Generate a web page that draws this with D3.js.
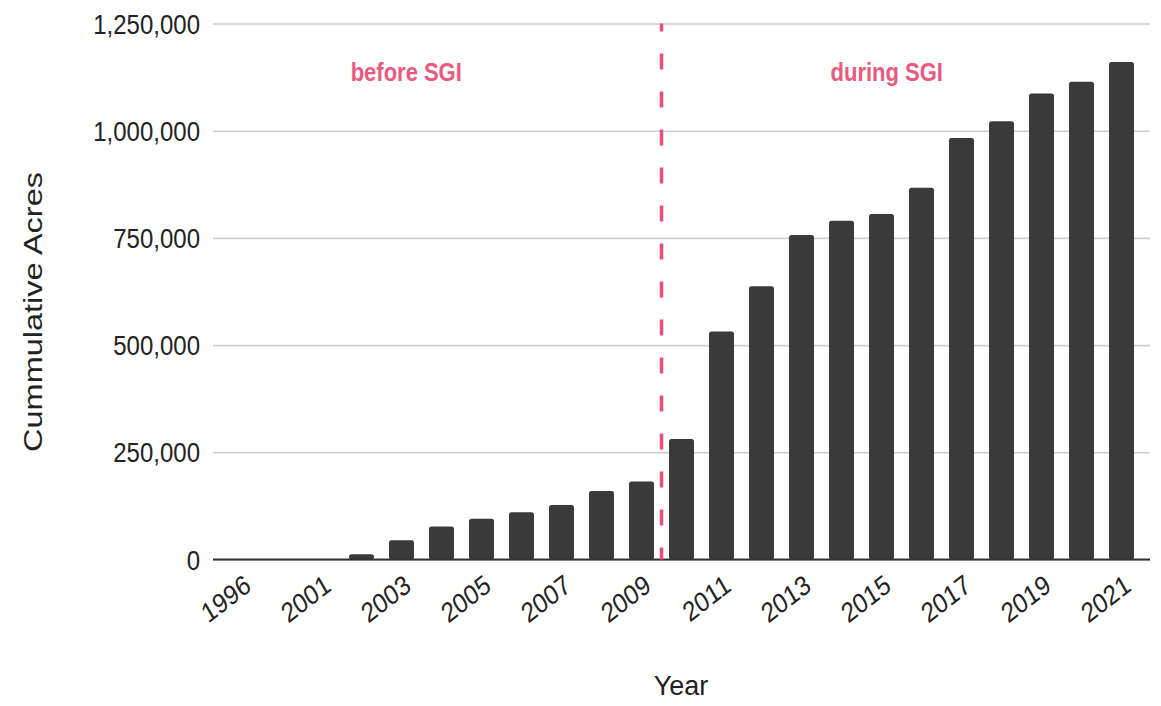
<!DOCTYPE html>
<html>
<head>
<meta charset="utf-8">
<script src="https://cdn.jsdelivr.net/npm/d3@7/dist/d3.min.js"></script>
<style>
  html, body { margin: 0; padding: 0; background: #fff; }
  svg { display: block; font-family: "Liberation Sans", Arial, sans-serif; }
</style>
</head>
<body>
<svg id="chart" width="1161" height="706"></svg>
<script>
// ---- data ----
const years = ["1996","2000","2001","2002","2003","2004","2005","2006","2007","2008","2009",
               "2010","2011","2012","2013","2014","2015","2016","2017","2018","2019","2020","2021"];
const acres = [0, 0, 0, 12000, 45000, 77000, 95000, 110000, 127000, 160000, 182000,
               281000, 532000, 637000, 757000, 790000, 806000, 867000, 983000, 1022000, 1087000, 1114000, 1160000];
const yTicks = [0, 250000, 500000, 750000, 1000000, 1250000];
const periodLabels = ["before SGI", "during SGI"];
const splitAfter = "2009";
const yTitle = "Cummulative Acres";
const xTitle = "Year";

// ---- layout ----
const svg = d3.select("#chart");
const plotL = 213, plotR = 1150, plotT = 23.5, plotB = 559.5;
const stretch = 1.15;

const x = d3.scaleBand().domain(years).range([plotL, plotR]).paddingInner(0.375).paddingOuter(0.4);
const y = d3.scaleLinear().domain([0, 1250000]).range([plotB, plotT]);

// gridlines + y axis labels
const yAxis = d3.axisLeft(y).tickValues(yTicks).tickFormat(d3.format(","))
  .tickSizeInner(-(plotR - plotL)).tickSizeOuter(0).tickPadding(13);
const gy = svg.append("g").attr("transform", `translate(${plotL},0)`).call(yAxis);
gy.select(".domain").remove();
gy.selectAll(".tick line").attr("stroke", "#cfcfcf").attr("stroke-width", 1.6);
gy.selectAll(".tick text")
  .attr("fill", "#222").style("font-size", "24px")
  .attr("dy", null).attr("dominant-baseline", "central")
  .attr("transform", `scale(1,${stretch})`);

// bars
svg.append("g").selectAll("rect").data(years.map((d, i) => ({ year: d, v: acres[i] })))
  .join("rect")
  .attr("x", d => x(d.year))
  .attr("width", x.bandwidth())
  .attr("y", d => y(d.v))
  .attr("height", d => y(0) - y(d.v))
  .attr("rx", 2.5)
  .attr("fill", "#3a3a3a");

// baseline
svg.append("line").attr("x1", plotL).attr("x2", plotR).attr("y1", y(0)).attr("y2", y(0))
  .attr("stroke", "#333").attr("stroke-width", 2);

// x axis
const xAxis = d3.axisBottom(x).tickSize(0)
  .tickFormat((d, i) => (i % 2 === 0 ? d : ""));
const gx = svg.append("g").attr("transform", `translate(0,${y(0)})`).call(xAxis);
gx.select(".domain").remove();
gx.selectAll(".tick text")
  .attr("fill", "#222").style("font-size", "24px")
  .attr("text-anchor", "end").attr("y", null).attr("dy", null)
  .attr("transform", `translate(11,30) scale(1,${stretch}) rotate(-34)`);

// split line
const splitX = x(splitAfter) + x.bandwidth() + (x.step() - x.bandwidth()) / 2;
svg.append("line").attr("x1", splitX).attr("x2", splitX).attr("y1", plotT).attr("y2", plotB)
  .attr("stroke", "#ea4f78").attr("stroke-width", 3.5).attr("stroke-dasharray", "16,22")
  .attr("stroke-dashoffset", 8);

// period labels
const midBefore = (plotL + splitX) / 2 - 31;
const midDuring = (splitX + plotR) / 2 - 19;
[[periodLabels[0], midBefore], [periodLabels[1], midDuring]].forEach(([t, cx]) => {
  svg.append("text").text(t)
    .attr("text-anchor", "middle").attr("fill", "#ea5a80")
    .style("font-size", "22px").style("font-weight", "bold")
    .attr("transform", `translate(${cx},81) scale(1,${stretch})`);
});

// axis titles
svg.append("text").text(yTitle)
  .attr("text-anchor", "middle").attr("fill", "#222")
  .style("font-size", "25px")
  .attr("textLength", 280).attr("lengthAdjust", "spacingAndGlyphs")
  .attr("transform", "translate(42,312) rotate(-90)");

svg.append("text").text(xTitle)
  .attr("x", 681).attr("y", 695)
  .attr("text-anchor", "middle").attr("fill", "#222")
  .style("font-size", "27px");
</script>
</body>
</html>
